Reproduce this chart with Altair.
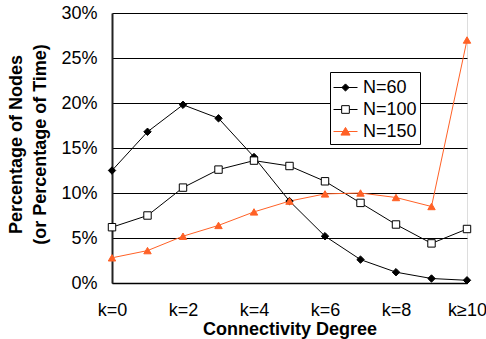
import altair as alt
import pandas as pd

# Connectivity degree k = 0 .. 10 (last bucket is k >= 10)
degrees = list(range(11))
tick_values = [0, 2, 4, 6, 8, 10]
tick_labels = ["k=0", "k=2", "k=4", "k=6", "k=8", "k≥10"]

series_names = ["N=60", "N=100", "N=150"]
# Percentage of nodes at each connectivity degree
n60 = [12.5, 16.8, 19.8, 18.3, 14.0, 9.1, 5.2, 2.6, 1.2, 0.5, 0.3]
n100 = [6.2, 7.5, 10.6, 12.6, 13.6, 13.0, 11.3, 8.9, 6.5, 4.4, 6.0]
n150 = [2.8, 3.6, 5.2, 6.4, 7.9, 9.1, 9.9, 10.0, 9.5, 8.5, 27.0]

line_colors = ["#000000", "#000000", "#FF6126"]
fill_colors = ["#000000", "#FFFFFF", "#FF6126"]
marker_shapes = ["diamond", "square", "triangle-up"]
# legend symbols: a short line with the marker in the middle
legend_shapes = [
    "M-1,0H1M0,-0.3L0.3,0L0,0.3L-0.3,0Z",
    "M-1,0H-0.32M0.32,0H1M-0.32,-0.32H0.32V0.32H-0.32Z",
    "M-1,0H1M0,-0.34L0.38,0.3H-0.38Z",
]

rows = []
for name, vals in zip(series_names, [n60, n100, n150]):
    for k, v in zip(degrees, vals):
        rows.append({"k": k, "series": name, "lg": name, "value": v / 100.0})
df = pd.DataFrame(rows)

FONT = "Liberation Sans"

label_expr = " : ".join(
    f"datum.value == {v} ? '{t}'" for v, t in zip(tick_values, tick_labels)
) + " : ''"

x = alt.X(
    "k:Q",
    scale=alt.Scale(domain=[0, 10], nice=False, zero=False),
    axis=alt.Axis(
        values=tick_values,
        labelExpr=label_expr,
        title="Connectivity Degree",
        ticks=False,
        tickSize=0,
        grid=False,
        domainColor="#000000",
        domainWidth=1.5,
        labelPadding=18,
        labelFontSize=18,
        labelFont=FONT,
        labelColor="#000000",
        titleFont=FONT,
        titleFontSize=18,
        titleFontWeight="bold",
        titleColor="#000000",
        titleY=37,
        labelFlush=False,
        labelOverlap=False,
    ),
)

y = alt.Y(
    "value:Q",
    scale=alt.Scale(domain=[0, 0.3], nice=False),
    axis=alt.Axis(
        values=[0, 0.05, 0.10, 0.15, 0.20, 0.25, 0.30],
        format=".0%",
        title=["Percentage of Nodes", "(or Percentage of Time)"],
        ticks=False,
        tickSize=0,
        grid=True,
        gridColor="#000000",
        gridWidth=1,
        domainColor="#222222",
        domainWidth=2,
        labelPadding=15,
        labelFontSize=18,
        labelFont=FONT,
        labelColor="#000000",
        titleFont=FONT,
        titleFontSize=18,
        titleFontWeight="bold",
        titleColor="#000000",
        titleLineHeight=24,
        titleX=-87,
        titleY=131,
        labelFlush=False,
        labelOverlap=False,
    ),
)

base = alt.Chart(df)

lines = base.mark_line(strokeWidth=1).encode(
    x=x,
    y=y,
    color=alt.Color(
        "series:N",
        scale=alt.Scale(domain=series_names, range=line_colors),
        legend=None,
    ),
    detail="series:N",
)

points = base.mark_point(opacity=1, strokeWidth=1).encode(
    x=x,
    y=y,
    shape=alt.Shape(
        "series:N",
        scale=alt.Scale(domain=series_names, range=marker_shapes),
        legend=None,
    ),
    fill=alt.Fill(
        "series:N",
        scale=alt.Scale(domain=series_names, range=fill_colors),
        legend=None,
    ),
    stroke=alt.Stroke(
        "series:N",
        scale=alt.Scale(domain=series_names, range=line_colors),
        legend=None,
    ),
    size=alt.value(55),
)

legend_spec = alt.Legend(
    title=None,
    orient="none",
    legendX=218,
    legendY=59,
    strokeColor="#000000",
    fillColor="#FFFFFF",
    padding=3,
    labelFont=FONT,
    labelFontSize=18,
    labelColor="#000000",
    labelOffset=5,
    symbolSize=576,
    symbolStrokeWidth=1,
    rowPadding=0,
)

legend_layer = base.transform_filter("datum.k < 0").mark_point(opacity=1, strokeWidth=1).encode(
    x=x,
    y=y,
    shape=alt.Shape(
        "lg:N",
        scale=alt.Scale(domain=series_names, range=legend_shapes),
        legend=legend_spec,
    ),
    fill=alt.Fill(
        "lg:N",
        scale=alt.Scale(domain=series_names, range=fill_colors),
        legend=legend_spec,
    ),
    stroke=alt.Stroke(
        "lg:N",
        scale=alt.Scale(domain=series_names, range=line_colors),
        legend=legend_spec,
    ),
)

chart = (
    alt.layer(lines, points, legend_layer)
    .resolve_scale(shape="independent", fill="independent", stroke="independent")
    .properties(
        width=355,
        height=270,
        autosize=alt.AutoSizeParams(type="none"),
        padding={"left": 112, "top": 13, "right": 19, "bottom": 56},
    )
    .configure_view(stroke="#888888", strokeWidth=1)
    .configure(background="#FFFFFF")
)

chart.save("out.html", embed_options={"renderer": "svg", "actions": False})
